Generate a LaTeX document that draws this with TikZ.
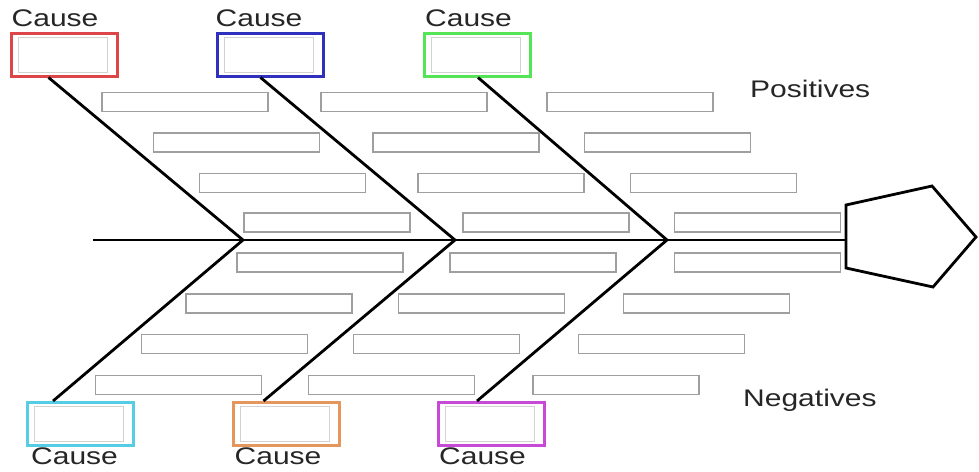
\documentclass[tikz,border=0pt]{standalone}
\usepackage{fontspec}
\setmainfont[FakeStretch=1.25]{Liberation Sans}
\usetikzlibrary{positioning}
\definecolor{causeRed}{RGB}{220,70,72}
\definecolor{causeBlue}{RGB}{48,48,190}
\definecolor{causeGreen}{RGB}{85,228,85}
\definecolor{causeCyan}{RGB}{85,205,228}
\definecolor{causeOrange}{RGB}{228,150,92}
\definecolor{causeMagenta}{RGB}{200,72,215}

\begin{document}
\begin{tikzpicture}[
        x=1pt, y=-1pt,
        bar/.style={rectangle, draw=gray!75, line width=1.2pt, minimum width=166pt, minimum height=19pt, inner sep=0pt},
        cause/.style={rectangle, draw=#1, line width=3pt, minimum width=106pt, minimum height=43pt, inner sep=0pt,
            path picture={\draw[gray!35, line width=0.8pt] ([shift={(7pt,-4pt)}]path picture bounding box.north west)
                rectangle ([shift={(-10pt,4pt)}]path picture bounding box.south east);}},
        lbl/.style={inner sep=0pt, font=\fontsize{24}{28}\selectfont, text=black!85},
        bone/.style={line width=2.8pt, black}
    ]
        \useasboundingbox (0,0) rectangle (979,471);

        % spine and head
        \coordinate (tail) at (93,240);
        \coordinate (head) at (846,240);
        \coordinate (j1) at (243,240);
        \coordinate (j2) at (455,240);
        \coordinate (j3) at (667,240);
        \draw[bone] (tail) -- (head);
        \draw[line width=2.8pt, line join=miter] (846,205) -- (932,186) -- (976,237) -- (933,287) -- (846,268) -- cycle;

        % cause boxes, positives on top
        \node[cause=causeRed] (c1) at (64,54.5) {};
        \node[cause=causeBlue] (c2) at (270,54.5) {};
        \node[cause=causeGreen] (c3) at (477.5,54.5) {};
        \node[lbl, anchor=south west] (t1) at ([shift={(2pt,5pt)}]c1.north west) {Cause};
        \node[lbl, anchor=south west] (t2) at ([shift={(0pt,5pt)}]c2.north west) {Cause};
        \node[lbl, anchor=south west] (t3) at ([shift={(2pt,5pt)}]c3.north west) {Cause};

        % cause boxes, negatives below
        \node[cause=causeCyan] (c4) at (80.5,424) {};
        \node[cause=causeOrange] (c5) at (286,424) {};
        \node[cause=causeMagenta] (c6) at (491.5,424) {};
        \node[lbl, anchor=north west] (t4) at ([shift={(5pt,-1pt)}]c4.south west) {Cause};
        \node[lbl, anchor=north west] (t5) at ([shift={(3pt,-1pt)}]c5.south west) {Cause};
        \node[lbl, anchor=north west] (t6) at ([shift={(2pt,-1pt)}]c6.south west) {Cause};

        \node[lbl, anchor=base west] (pos) at (750,97) {Positives};
        \node[lbl, anchor=base west] (neg) at (743,406) {Negatives};

        % bones
        \draw[bone] ([xshift=39pt]c1.south west) -- (j1);
        \draw[bone] ([xshift=45pt]c2.south west) -- (j2);
        \draw[bone] ([xshift=55pt]c3.south west) -- (j3);
        \draw[bone] (j1) -- ([xshift=27pt]c4.north west);
        \draw[bone] (j2) -- ([xshift=32pt]c5.north west);
        \draw[bone] (j3) -- ([xshift=40pt]c6.north west);

        % sub-cause bars above the spine
        \node[bar] (p1a) at (185,102) {};
        \node[bar] (p1b) at (404,102) {};
        \node[bar] (p1c) at (630,102) {};
        \node[bar] (p2a) at (236.5,142.5) {};
        \node[bar] (p2b) at (456,142.5) {};
        \node[bar] (p2c) at (667.5,142.5) {};
        \node[bar] (p3a) at (282.5,183) {};
        \node[bar] (p3b) at (501,183) {};
        \node[bar] (p3c) at (713.5,183) {};
        \node[bar] (p4a) at (327,222.5) {};
        \node[bar] (p4b) at (546,222.5) {};
        \node[bar] (p4c) at (757.5,222.5) {};

        % sub-cause bars below the spine
        \node[bar] (n1a) at (320,262.5) {};
        \node[bar] (n1b) at (533,262.5) {};
        \node[bar] (n1c) at (757.5,262.5) {};
        \node[bar] (n2a) at (269,303.5) {};
        \node[bar] (n2b) at (481.5,303.5) {};
        \node[bar] (n2c) at (706.5,303.5) {};
        \node[bar] (n3a) at (224.5,344) {};
        \node[bar] (n3b) at (436.5,344) {};
        \node[bar] (n3c) at (661.5,344) {};
        \node[bar] (n4a) at (178.5,385) {};
        \node[bar] (n4b) at (391.5,385) {};
        \node[bar] (n4c) at (616,385) {};
    \end{tikzpicture}
\end{document}
